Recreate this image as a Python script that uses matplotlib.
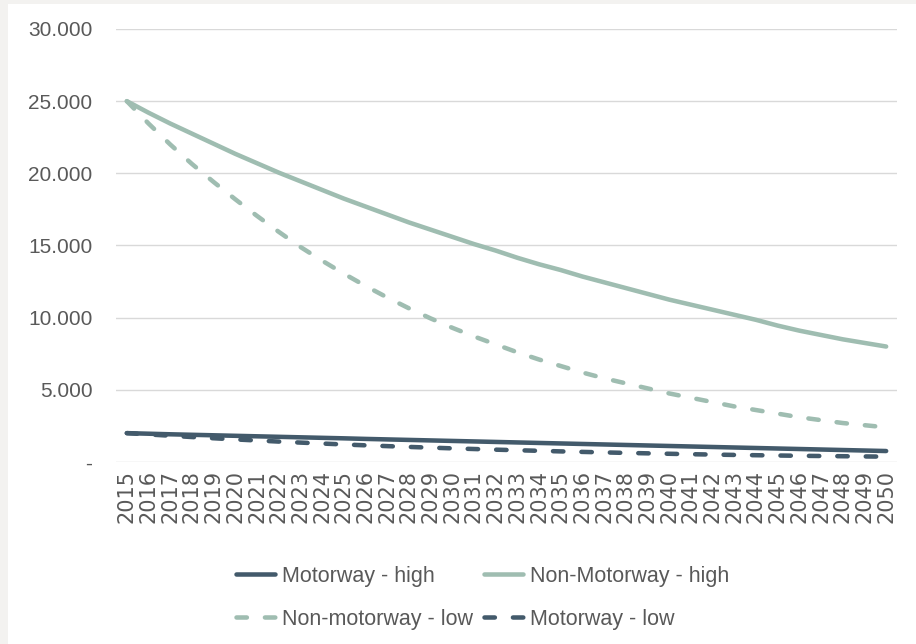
import matplotlib.pyplot as plt
from matplotlib.patches import Rectangle
from matplotlib.ticker import FuncFormatter

years = list(range(2015, 2051))

motorway_high = [2000, 1960, 1920, 1885, 1850, 1815, 1780, 1745, 1710, 1675,
                 1640, 1600, 1565, 1530, 1495, 1460, 1425, 1390, 1355, 1320,
                 1285, 1250, 1215, 1180, 1145, 1110, 1075, 1040, 1005, 970,
                 935, 900, 865, 830, 795, 760]
non_motorway_high = [25000, 24200, 23450, 22750, 22050, 21350, 20700, 20050, 19450, 18850,
                     18250, 17700, 17150, 16600, 16100, 15600, 15100, 14650, 14150, 13700,
                     13300, 12850, 12450, 12050, 11650, 11250, 10900, 10550, 10200, 9850,
                     9450, 9100, 8800, 8500, 8250, 8000]
non_motorway_low = [25000, 23450, 22000, 20650, 19400, 18200, 17050, 15950, 14900, 13950,
                    13050, 12200, 11400, 10650, 9950, 9300, 8700, 8150, 7600, 7100,
                    6650, 6200, 5800, 5450, 5100, 4750, 4450, 4150, 3850, 3600,
                    3350, 3100, 2900, 2700, 2550, 2400]
motorway_low = [2000, 1910, 1820, 1730, 1645, 1565, 1490, 1415, 1345, 1280,
                1215, 1155, 1100, 1045, 995, 945, 900, 855, 815, 775,
                735, 700, 665, 630, 600, 570, 540, 515, 490, 470,
                450, 430, 415, 400, 385, 370]

dark = '#435a6b'
light = '#9fbdb1'
text_font = ['Liberation Sans', 'DejaVu Sans']

fig = plt.figure(figsize=(9.16, 6.44), dpi=100, facecolor='#f3f2f0')
fig.patches.append(Rectangle((8 / 916, 0), 1, 1 - 4 / 644, transform=fig.transFigure,
                             facecolor='white', edgecolor='none', zorder=-10))

ax = fig.add_axes([116 / 916, 1 - 462 / 644, (897 - 116) / 916, (462 - 29) / 644])
ax.set_facecolor('white')

lw = 3.25
ax.plot(years, motorway_high, color=dark, lw=lw, solid_capstyle='round', label='Motorway - high')
ax.plot(years, non_motorway_low, color=light, lw=lw, dashes=(2.3, 4.0),
        dash_capstyle='round', label='Non-motorway - low')
ax.plot(years, non_motorway_high, color=light, lw=lw, solid_capstyle='round', label='Non-Motorway - high')
ax.plot(years, motorway_low, color=dark, lw=lw, dashes=(2.3, 4.0),
        dash_capstyle='round', label='Motorway - low')

ax.set_xlim(2014.5, 2050.5)
ax.set_ylim(0, 30000)
ax.set_yticks(range(0, 30001, 5000))
ax.set_xticks(years)
ax.set_xticklabels([str(y) for y in years], rotation=90, fontsize=15,
                   color='#595959', family='DejaVu Sans')
ax.yaxis.set_major_formatter(FuncFormatter(
    lambda v, p: '-' if v == 0 else f'{int(v):,}'.replace(',', '.')))
for lab in ax.get_yticklabels():
    lab.set_family(text_font)
    lab.set_fontsize(15)
    lab.set_color('#595959')
ax.tick_params(axis='both', length=0)
ax.tick_params(axis='y', pad=17)
ax.tick_params(axis='x', pad=6)

for s in ax.spines.values():
    s.set_visible(False)
ax.grid(axis='y', color='#d9d9d9', lw=1)
ax.set_axisbelow(True)

leg = ax.legend(ncol=2, loc='upper left', bbox_to_anchor=(236 / 916, 1 - 566 / 644),
                bbox_transform=fig.transFigure, frameon=False, borderpad=0,
                borderaxespad=0, handlelength=1.8, handletextpad=0.35,
                columnspacing=0.5, labelspacing=1.0,
                prop={'family': text_font, 'size': 15.5})
for t in leg.get_texts():
    t.set_color('#595959')

fig.savefig('out.png', dpi=100, facecolor=fig.get_facecolor())
